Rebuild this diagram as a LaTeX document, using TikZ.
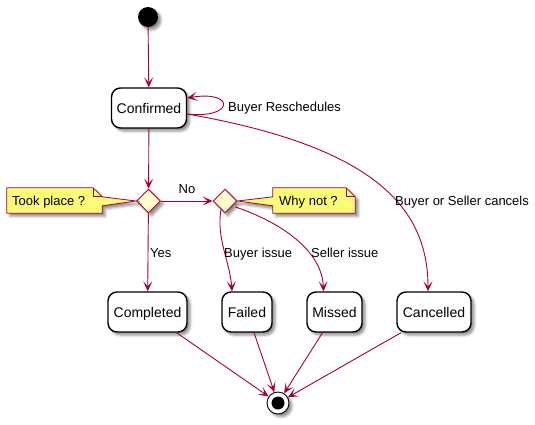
\documentclass[tikz,border=0pt]{standalone}
\usepackage{fontspec}
\setmainfont{Liberation Sans}
\usepackage{tikz}
\usetikzlibrary{shapes.geometric}
\usetikzlibrary{calc}
\usetikzlibrary{arrows.meta}
\usetikzlibrary{shadows.blur}
\usepackage{xcolor}
\definecolor{umlred}{HTML}{A80036}
\definecolor{noteyellow}{HTML}{FBFB77}
\definecolor{choicefill}{HTML}{FEFECE}

\begin{document}
\begin{tikzpicture}[x=1pt, y=-1pt]
        % ================= styles =================
        \tikzset{
            % soft shadow under every shape
            umlshadow/.style={blur shadow={shadow xshift=3pt, shadow yshift=-3pt, shadow blur radius=2.5pt, shadow opacity=45}},
            % state: white rounded box with black border
            state/.style={rectangle, rounded corners=9pt, draw=black, line width=1.4pt, fill=white, minimum height=40pt, inner sep=0pt, text height=10pt, text depth=0pt, font=\fontsize{14}{16}\selectfont, umlshadow},
            % choice diamond
            choice/.style={diamond, aspect=1, draw=umlred, line width=0.9pt, fill=choicefill, minimum size=24pt, inner sep=0pt, umlshadow},
            % note box (outline is drawn separately) and its text
            notebox/.style={rectangle, minimum height=25pt, inner sep=0pt},
            notetext/.style={inner sep=0pt, anchor=west, text height=9.3pt, text depth=0pt, font=\fontsize{13}{15}\selectfont},
            noteshape/.style={draw=umlred, line width=0.8pt, fill=noteyellow, line join=miter, umlshadow},
            % connectors and their labels
            arrow/.style={draw=umlred, line width=0.9pt, -{Stealth[length=10pt, width=9pt, inset=5pt]}},
            elabel/.style={inner sep=0pt, text height=9.3pt, text depth=0pt, font=\fontsize{13}{15}\selectfont}
        }
        \useasboundingbox (0,0) rectangle (535,424);

        % ================= start / end =================
        \node[circle, fill=black, minimum size=20pt, inner sep=0pt, umlshadow] (start) at (148,17) {};
        \node[circle, draw=black, line width=0.9pt, fill=white, minimum size=22pt, inner sep=0pt, umlshadow,
              path picture={\fill[black] (path picture bounding box.center) circle (6.5pt);}] (stop) at (278,403) {};

        % ================= states =================
        \node[state, minimum width=75pt] (confirmed) at (149,108) {Confirmed};
        \node[state, minimum width=79pt] (completed) at (147.5,312) {Completed};
        \node[state, minimum width=50pt] (failed) at (247,312) {Failed};
        \node[state, minimum width=55pt] (missed) at (334.5,312) {Missed};
        \node[state, minimum width=74pt] (cancelled) at (434,312) {Cancelled};

        % ================= choices =================
        \node[choice] (tookplace) at (148.5,201) {};
        \node[choice] (whynot) at (225,201) {};

        % ================= notes =================
        \node[notebox, minimum width=95pt] (tooknote) at (54.5,200.5) {};
        \draw[noteshape] (tooknote.north west) -- ($(tooknote.north east)+(-9,0)$) -- ($(tooknote.north east)+(0,9)$)
            -- (tookplace.west) -- ($(tooknote.north east)+(0,18)$) -- (tooknote.south east) -- (tooknote.south west) -- cycle;
        \draw[draw=umlred, line width=0.8pt] ($(tooknote.north east)+(-9,0)$) -- ($(tooknote.north east)+(-9,9)$) -- ($(tooknote.north east)+(0,9)$);
        \node[notetext] (tooklabel) at (12,201) {Took place ?};

        \node[notebox, minimum width=82pt] (whynotnote) at (314,200.5) {};
        \draw[noteshape] (whynotnote.north west) -- ($(whynotnote.north east)+(-9,0)$) -- ($(whynotnote.north east)+(0,9)$)
            -- (whynotnote.south east) -- (whynotnote.south west) -- ($(whynotnote.north west)+(0,18)$)
            -- (whynot.east) -- ($(whynotnote.north west)+(0,9)$) -- cycle;
        \draw[draw=umlred, line width=0.8pt] ($(whynotnote.north east)+(-9,0)$) -- ($(whynotnote.north east)+(-9,9)$) -- ($(whynotnote.north east)+(0,9)$);
        \node[notetext] (whynotlabel) at (279,201) {Why not ?};

        % ================= connectors =================
        \draw[arrow] (start) -- (confirmed);
        % self loop
        \draw[arrow] ($(confirmed.east)+(0,6)$) .. controls (235,119) and (235,90) .. ($(confirmed.east)+(0,-10)$);
        \node[elabel, anchor=west] (lreschedule) at (228,107) {Buyer Reschedules};

        \draw[arrow] (confirmed) -- (tookplace);
        \draw[arrow] ($(confirmed.east)+(0,6)$) .. controls (370,146) and (428,205) .. ($(cancelled.north)+(-6,0)$);
        \node[elabel, anchor=west] (lcancel) at (395,201) {Buyer or Seller cancels};

        \draw[arrow] (tookplace) -- (whynot);
        \node[elabel] (lno) at (187,189) {No};
        \draw[arrow] (tookplace) -- (completed);
        \node[elabel, anchor=west] (lyes) at (150,253) {Yes};

        \draw[arrow] ($(whynot.south)+(-4,-4)$) .. controls (216,238) and (230,262) .. ($(failed.north)+(-15,0)$);
        \node[elabel, anchor=west] (lbuyer) at (224,253) {Buyer issue};
        \draw[arrow] ($(whynot.east)+(-2,6)$) .. controls (280,222) and (322,250) .. ($(missed.north)+(-11,0)$);
        \node[elabel, anchor=west] (lseller) at (311,253) {Seller issue};

        % ================= into the end node =================
        \draw[arrow] ($(completed.south)+(29,0)$) -- (stop);
        \draw[arrow] ($(failed.south)+(7,0)$) -- (stop);
        \draw[arrow] ($(missed.south)+(-12,0)$) -- (stop);
        \draw[arrow] ($(cancelled.south)+(-33,0)$) -- (stop);

    \end{tikzpicture}
\end{document}
